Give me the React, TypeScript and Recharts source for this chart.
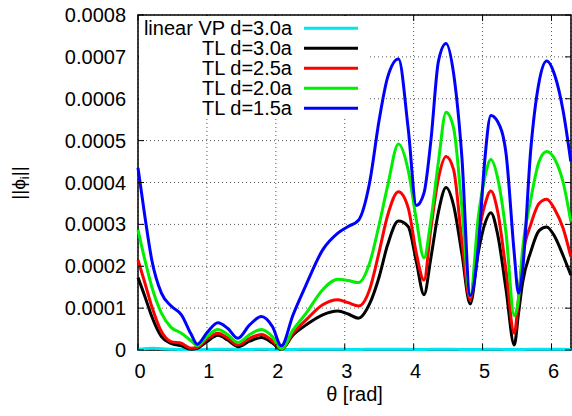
import { CartesianGrid, Legend, Line, LineChart, ReferenceArea, XAxis, YAxis } from "recharts";

// values are in units of 1e-4
const UNIT = 1e-4;

const THETA = [
  0, 0.1, 0.2, 0.34, 0.48, 0.63, 0.77, 0.86, 1.0, 1.16, 1.3, 1.45, 1.62, 1.79, 1.95, 2.08, 2.25,
  2.44, 2.68, 2.9, 3.05, 3.2, 3.36, 3.5, 3.62, 3.78, 3.92, 4.04, 4.15, 4.25, 4.36, 4.47, 4.58, 4.7,
  4.82, 4.94, 5.03, 5.12, 5.22, 5.34, 5.46, 5.52, 5.58, 5.7, 5.82, 5.93, 6.05, 6.17, 6.28,
];

const LINEAR_VP_30 = [
  0.02, 0.03, 0.04, 0.03, 0.02, 0.01, 0.01, 0.01, 0.01, 0.02, 0.02, 0.01, 0.01, 0.02, 0.01, 0.01, 0.01,
  0.02, 0.02, 0.02, 0.01, 0.01, 0.02, 0.02, 0.02, 0.02, 0.02, 0.01, 0.01, 0.02, 0.02, 0.02, 0.02, 0.01,
  0.01, 0.01, 0.02, 0.02, 0.02, 0.01, 0.01, 0.01, 0.01, 0.02, 0.02, 0.02, 0.02, 0.02, 0.01,
];

const TL_30 = [
  1.73, 1.28, 0.8, 0.32, 0.16, 0.1, 0.02, 0.04, 0.2, 0.35, 0.24, 0.08, 0.21, 0.3, 0.17, 0.01, 0.36,
  0.6, 0.84, 0.93, 0.86, 0.76, 1.1, 1.75, 2.5, 3.08, 2.95, 2.1, 1.32, 2.2, 3.3, 3.88, 3.45, 2.3,
  1.1, 2.35, 3.0, 3.28, 2.75, 1.45, 0.12, 0.85, 1.6, 2.35, 2.85, 2.94, 2.7, 2.25, 1.79,
];

const TL_25 = [
  2.15, 1.6, 1.04, 0.44, 0.2, 0.16, 0.04, 0.06, 0.26, 0.4, 0.29, 0.12, 0.28, 0.37, 0.22, 0.02, 0.4,
  0.72, 1.08, 1.2, 1.13, 1.05, 1.44, 2.35, 3.2, 3.78, 3.4, 2.3, 1.67, 2.9, 4.1, 4.62, 4.3, 2.6,
  1.2, 2.75, 3.45, 3.8, 3.3, 1.9, 0.4, 1.2, 2.2, 3.0, 3.5, 3.6, 3.35, 2.9, 2.23,
];

const TL_20 = [
  2.87, 2.15, 1.51, 0.88, 0.54, 0.4, 0.22, 0.1, 0.32, 0.49, 0.37, 0.18, 0.37, 0.49, 0.32, 0.02, 0.48,
  0.88, 1.44, 1.69, 1.66, 1.61, 2.07, 3.0, 3.9, 4.92, 4.3, 3.1, 2.2, 3.1, 4.5, 5.68, 5.3, 3.4,
  1.28, 3.2, 4.1, 4.55, 4.1, 2.8, 0.82, 1.2, 2.4, 3.6, 4.5, 4.74, 4.55, 4.0, 3.07,
];

const TL_15 = [
  4.35, 3.19, 2.15, 1.36, 1.05, 0.84, 0.38, 0.14, 0.41, 0.65, 0.52, 0.28, 0.6, 0.8, 0.56, 0.1, 0.84,
  1.56, 2.39, 2.79, 2.95, 3.1, 3.99, 5.5, 6.5, 6.95, 5.3, 3.45, 3.75, 5.0, 6.9, 7.32, 6.6, 4.6,
  1.3, 2.5, 4.5, 5.6, 5.45, 4.7, 2.3, 1.36, 1.9, 4.8, 6.4, 6.9, 6.55, 5.7, 4.5,
];

const X_TICKS = [0, 1, 2, 3, 4, 5, 6];
const Y_TICKS = [0, 0.0001, 0.0002, 0.0003, 0.0004, 0.0005, 0.0006, 0.0007, 0.0008];

const SERIES = [
  { key: "vp30", name: "linear VP d=3.0a", color: "#00e5ee", values: LINEAR_VP_30 },
  { key: "tl30", name: "TL d=3.0a", color: "#000000", values: TL_30 },
  { key: "tl25", name: "TL d=2.5a", color: "#ff0000", values: TL_25 },
  { key: "tl20", name: "TL d=2.0a", color: "#00ee00", values: TL_20 },
  { key: "tl15", name: "TL d=1.5a", color: "#0000ff", values: TL_15 },
];

const data = THETA.map((t, i) => {
  const row: Record<string, number> = { theta: t };
  SERIES.forEach((s) => (row[s.key] = s.values[i] * UNIT));
  return row;
});

const FONT = '"Liberation Sans", Arial, Helvetica, sans-serif';
const W = 572;
const H = 416;
const PLOT_LEFT = 138;
const PLOT_RIGHT = 571;
const PLOT_TOP = 15;
const PLOT_BOTTOM = 350;
const TICK = 6;

function XTick({ x, y, payload }: any) {
  return (
    <g>
      <line x1={x} x2={x} y1={PLOT_BOTTOM} y2={PLOT_BOTTOM - TICK} stroke="#000" />
      <line x1={x} x2={x} y1={PLOT_TOP} y2={PLOT_TOP + TICK} stroke="#000" />
      <text x={x + 2} y={y} dy="0.71em" textAnchor="middle" fontSize={20} fill="#000">
        {payload.value}
      </text>
    </g>
  );
}

function YTick({ x, y, payload }: any) {
  const v = payload.value;
  return (
    <g>
      <line x1={PLOT_LEFT} x2={PLOT_LEFT + TICK} y1={y} y2={y} stroke="#000" />
      <line x1={PLOT_RIGHT} x2={PLOT_RIGHT - TICK} y1={y} y2={y} stroke="#000" />
      <text x={x} y={y} dy="0.35em" textAnchor="end" fontSize={20} fill="#000">
        {v === 0 ? "0" : v.toFixed(4)}
      </text>
    </g>
  );
}

function YLabel() {
  return (
    <text x={25} y={183} transform="rotate(-90 25 183)" textAnchor="middle" fontSize={19} fill="#000">
      ||ϕ
      <tspan fontSize={13} dy={4}>i</tspan>
      <tspan dy={-4}>||</tspan>
    </text>
  );
}

function KeyBox() {
  return (
    <svg width={229} height={103} style={{ display: "block", fontFamily: FONT }}>
      {SERIES.map((s, i) => (
        <g key={s.key}>
          <text x={153} y={19 + 20 * i} textAnchor="end" fontSize={20} fill="#000">
            {s.name}
          </text>
          <line x1={165} x2={219} y1={12.3 + 20 * i} y2={12.3 + 20 * i} stroke={s.color} strokeWidth={3} />
        </g>
      ))}
    </svg>
  );
}

export default function App() {
  return (
    <div style={{ position: "absolute", left: 0, top: 0, width: W, height: H, background: "#fff", fontFamily: FONT }}>
      <LineChart width={W} height={H} data={data} margin={{ top: PLOT_TOP, right: W - PLOT_RIGHT, bottom: 0, left: 0 }}>
        <CartesianGrid stroke="#555" strokeDasharray="1 3" />
        <XAxis
          dataKey="theta"
          type="number"
          domain={[0, 2 * Math.PI]}
          ticks={X_TICKS}
          height={H - PLOT_BOTTOM}
          tickSize={0}
          tickMargin={14}
          axisLine={false}
          tickLine={false}
          tick={XTick}
          label={{ value: "θ [rad]", position: "insideBottom", offset: 15, fontSize: 20, fill: "#000" }}
        />
        <YAxis
          type="number"
          domain={[0, 0.0008]}
          ticks={Y_TICKS}
          width={PLOT_LEFT}
          tickSize={0}
          tickMargin={12}
          axisLine={false}
          tickLine={false}
          tick={YTick}
          label={YLabel}
        />
        <ReferenceArea x1={0} x2={2 * Math.PI} y1={0} y2={0.0008} fill="none" stroke="#000" strokeWidth={1.5} />
        <Legend
          layout="horizontal"
          verticalAlign="middle"
          align="center"
          wrapperStyle={{ left: PLOT_LEFT + 1, top: PLOT_TOP + 1, width: 229, height: 103, background: "#fff" }}
          content={() => <KeyBox />}
        />
        {SERIES.map((s) => (
          <Line
            key={s.key}
            dataKey={s.key}
            name={s.name}
            stroke={s.color}
            strokeWidth={3}
            type="monotone"
            dot={false}
            activeDot={false}
            isAnimationActive={false}
          />
        ))}
      </LineChart>
    </div>
  );
}
